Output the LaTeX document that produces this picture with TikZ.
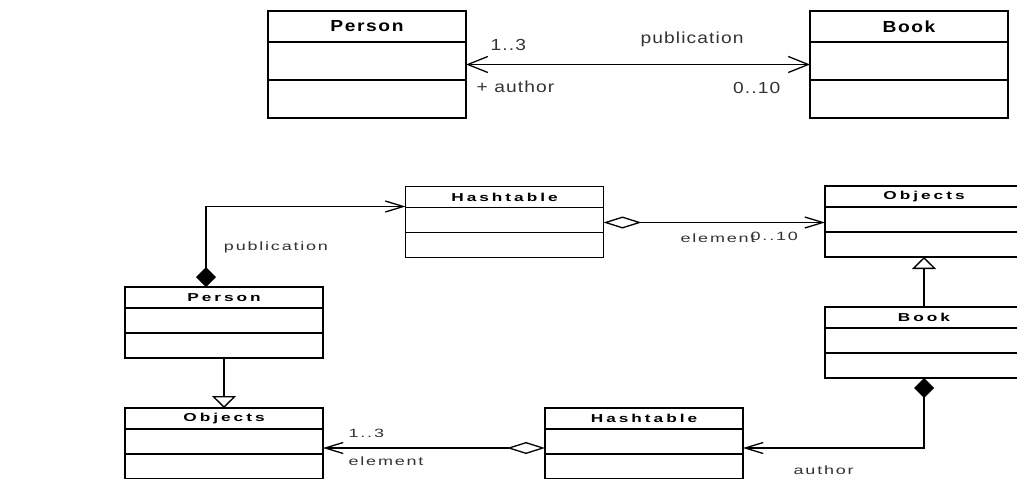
\documentclass[tikz,border=0pt]{standalone}
\usepackage{fontspec}
\setmainfont{Liberation Sans}
\newfontfamily\bigname{Liberation Sans}[FakeStretch=1.2,LetterSpace=10]
\newfontfamily\bigtext{Liberation Sans}[FakeStretch=1.2,LetterSpace=7]
\newfontfamily\smallname{Liberation Sans}[FakeStretch=1.5,LetterSpace=26]
\newfontfamily\smalltext{Liberation Sans}[FakeStretch=1.5,LetterSpace=15]
\usetikzlibrary{arrows.meta, positioning}

\begin{document}
\begin{tikzpicture}[
    x=1pt, y=-1pt, line width=1.3pt,
    tophead/.style={rectangle, draw, inner sep=0pt, outer sep=0pt, minimum width=198pt,
        minimum height=31pt, font=\bigname\bfseries\fontsize{16}{18}\selectfont},
    topcell/.style={rectangle, draw, inner sep=0pt, outer sep=0pt, minimum width=198pt,
        minimum height=38pt},
    head/.style={rectangle, draw, inner sep=0pt, outer sep=0pt, minimum width=198pt,
        minimum height=21pt, font=\smallname\bfseries\fontsize{11.5}{13}\selectfont},
    cell/.style={rectangle, draw, inner sep=0pt, outer sep=0pt, minimum width=198pt,
        minimum height=25pt},
    toplbl/.style={inner sep=0pt, text=black!80,
        font=\bigtext\fontsize{16}{18}\selectfont},
    lbl/.style={inner sep=0pt, text=black!80,
        font=\smalltext\fontsize{12}{14}\selectfont},
    twoway/.style={{Straight Barb[length=20pt,width=16pt]}-{Straight Barb[length=20pt,width=16pt]}},
    compo/.style={{Diamond[length=20pt,width=20pt]}-{Straight Barb[length=18pt,width=11pt]}},
    aggr/.style={{Diamond[open,length=38pt,width=12pt]}-{Straight Barb[length=18pt,width=11pt]}},
    inherit/.style={-{Triangle[open,length=12pt,width=24pt]}}
]

    \clip (0,0) rectangle (1017,479);

    % Upper model ------------------------------------------------

    \node[tophead] (person) at (367,26.5) {Person};
    \node[topcell, below=0pt of person] (persona) {};
    \node[topcell, below=0pt of persona] (personb) {};

    \node[tophead] (book) at (909,26.5) {Book};
    \node[topcell, below=0pt of book] (booka) {};
    \node[topcell, below=0pt of booka] (bookb) {};

    \draw[twoway] ([yshift=-3.5pt]persona.east) -- ([yshift=-3.5pt]booka.west);
    \node[toplbl, anchor=west] (n13) at (490,45) {1..3};
    \node[toplbl] (pub) at (692,39) {publication};
    \node[toplbl, anchor=west] (auth) at (476,87) {+ author};
    \node[toplbl, anchor=east] (n010) at (781,88) {0..10};

    % Lower model ------------------------------------------------

    \node[head] (hash1) at (504.5,197) {Hashtable};
    \node[cell, below=0pt of hash1] (hash1a) {};
    \node[cell, below=0pt of hash1a] (hash1b) {};

    \node[head] (obj1) at (924,196.5) {Objects};
    \node[cell, below=0pt of obj1] (obj1a) {};
    \node[cell, below=0pt of obj1a] (obj1b) {};

    \node[head] (pers2) at (224,297.5) {Person};
    \node[cell, below=0pt of pers2] (pers2a) {};
    \node[cell, below=0pt of pers2a] (pers2b) {};

    \node[head] (book2) at (924,317.5) {Book};
    \node[cell, below=0pt of book2] (book2a) {};
    \node[cell, below=0pt of book2a] (book2b) {};

    \node[head] (obj2) at (224,418.5) {Objects};
    \node[cell, below=0pt of obj2] (obj2a) {};
    \node[cell, below=0pt of obj2a] (obj2b) {};

    \node[head] (hash2) at (644,418.5) {Hashtable};
    \node[cell, below=0pt of hash2] (hash2a) {};
    \node[cell, below=0pt of hash2a] (hash2b) {};

    % Connectors -------------------------------------------------

    \draw[compo] ([xshift=-18pt]pers2.north) |- ([yshift=1pt]hash1.south west);
    \draw[aggr] ([yshift=-2.5pt]hash1a.east) -- ([yshift=-2.5pt]hash1a.east -| obj1a.west);
    \draw[inherit] (book2.north) -- (obj1b.south);
    \draw[inherit] (pers2b.south) -- (obj2.north);
    \draw[compo] (book2b.south) |- ([yshift=-6.5pt]hash2a.east);
    \draw[aggr] ([yshift=-6.5pt]hash2a.west) -- ([yshift=-6.5pt]hash2a.west -| obj2a.east);

    \node[lbl] (pub2) at (276,247) {publication};
    \node[lbl, anchor=west] (elem1) at (680,238) {element};
    \node[lbl, anchor=west] (mult1) at (750,236) {0..10};
    \node[lbl, anchor=west] (mult2) at (348,433) {1..3};
    \node[lbl, anchor=west] (elem2) at (348,461) {element};
    \node[lbl, anchor=west] (auth2) at (793,470) {author};

\end{tikzpicture}
\end{document}
